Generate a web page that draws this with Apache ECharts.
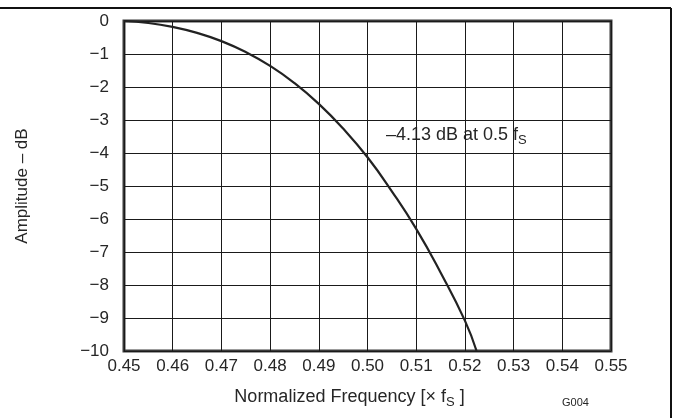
<!DOCTYPE html>
<html>
<head>
<meta charset="utf-8">
<script src="https://cdn.jsdelivr.net/npm/echarts@6/dist/echarts.min.js"></script>
<style>
html,body{margin:0;padding:0;background:#fff;}
#c{width:673px;height:418px;}
</style>
</head>
<body>
<div id="c"></div>
<script>
// Data
const freq = [0.45, 0.455, 0.46, 0.465, 0.47, 0.475, 0.48, 0.485, 0.49, 0.495, 0.50, 0.505, 0.51, 0.515, 0.52, 0.5224];
const amplitude = [0, -0.06, -0.18, -0.36, -0.61, -0.94, -1.36, -1.88, -2.51, -3.26, -4.13, -5.16, -6.3, -7.62, -9.08, -10];
const xTicks = [0.45, 0.55, 0.01];
const yTicks = [-10, 0, 1];
const annotationText = '–4.13 dB at 0.5 f';
const xTitle = 'Normalized Frequency [× f';
const yTitle = 'Amplitude – dB';
const figId = 'G004';

const FONT = 'Liberation Sans, Arial, sans-serif';
const TXT = '#262626';

const chart = echarts.init(document.getElementById('c'), null, {renderer: 'canvas'});
chart.setOption({
  animation: false,
  backgroundColor: '#fff',
  grid: {left: 124, right: 62, top: 21, bottom: 67, show: true, borderColor: '#3a3a3a', borderWidth: 3, backgroundColor: 'transparent'},
  xAxis: {
    type: 'value', min: xTicks[0], max: xTicks[1], interval: xTicks[2],
    axisLine: {show: false}, axisTick: {show: false},
    splitLine: {show: true, lineStyle: {color: '#1a1a1a', width: 1}},
    axisLabel: {margin: 7, color: TXT, fontFamily: FONT, fontSize: 17, formatter: v => v.toFixed(2)},
    name: '{t|' + xTitle + '}{s|S}{t| ]}', nameLocation: 'middle', nameGap: 35,
    nameTextStyle: {padding: [0, 36, 0, 0], rich: {
      t: {fontFamily: FONT, fontSize: 18, color: TXT},
      s: {fontFamily: FONT, fontSize: 13, color: TXT, padding: [10, 0, 0, 0]}
    }}
  },
  yAxis: {
    type: 'value', min: yTicks[0], max: yTicks[1], interval: yTicks[2],
    axisLine: {show: false}, axisTick: {show: false},
    splitLine: {show: true, lineStyle: {color: '#1a1a1a', width: 1}},
    axisLabel: {margin: 15, color: TXT, fontFamily: FONT, fontSize: 17, formatter: v => String(v).replace('-', '\u2212')},
    name: yTitle, nameLocation: 'middle', nameGap: 93,
    nameTextStyle: {fontFamily: FONT, fontSize: 17, color: TXT}
  },
  series: [{
    type: 'line', data: freq.map((f, i) => [f, amplitude[i]]),
    smooth: 0.5, symbol: 'none', clip: true,
    lineStyle: {color: '#222', width: 2.2}
  }],
  graphic: [
    {type: 'line', shape: {x1: 0, y1: 8, x2: 671, y2: 8}, style: {stroke: '#111', lineWidth: 2}},
    {type: 'line', shape: {x1: 671, y1: 8, x2: 671, y2: 418}, style: {stroke: '#111', lineWidth: 2}},
    {type: 'text', left: 386, top: 124, style: {
      text: '{t|' + annotationText + '}{s|S}', fill: TXT, backgroundColor: '#fff',
      rich: {
        t: {fontFamily: FONT, fontSize: 18, fill: TXT},
        s: {fontFamily: FONT, fontSize: 13, fill: TXT, padding: [10, 0, 0, 0]}
      }
    }},
    {type: 'text', left: 562, top: 397, style: {text: figId, font: '11px ' + FONT, fill: TXT}}
  ]
});
</script>
</body>
</html>
